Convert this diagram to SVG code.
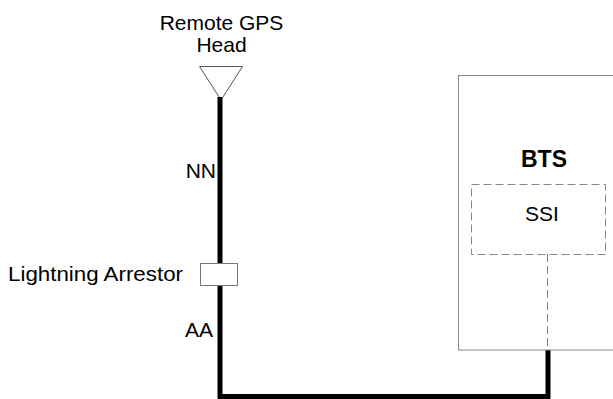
<svg xmlns="http://www.w3.org/2000/svg" width="613" height="399" viewBox="0 0 613 399">
<style>
text{font-family:"Liberation Sans",Arial,sans-serif;fill:#000}
.t{font-size:21px}
.thin{fill:none;stroke:#888;stroke-width:1}
.dash{fill:none;stroke:#888;stroke-width:1;stroke-dasharray:8,4}
.thick{fill:none;stroke:#000;stroke-width:5;stroke-linejoin:miter}
</style>
<rect width="613" height="399" fill="#fff"/>
<g id="gps">
<polygon points="199.5,66.5 242.5,66.5 221,100" fill="#fff" stroke="#555" stroke-width="1"/>
<text class="t" x="221.5" y="30" text-anchor="middle">Remote GPS</text>
<text class="t" x="221.5" y="52" text-anchor="middle">Head</text>
</g>
<g id="connectors">
<polyline class="thick" points="220,97 220,396.5 548,396.5 548,350"/>
<line class="dash" x1="547.5" y1="254" x2="547.5" y2="349"/>
</g>
<g id="labels">
<text class="t" x="216" y="178" text-anchor="end">NN</text>
<text class="t" x="213" y="337" text-anchor="end">AA</text>
</g>
<g id="arrestor">
<rect x="200.5" y="263.5" width="37" height="22" fill="#fff" stroke="#777" stroke-width="1"/>
<text class="t" x="183" y="281" text-anchor="end" textLength="175" lengthAdjust="spacingAndGlyphs">Lightning Arrestor</text>
</g>
<g id="bts">
<rect class="thin" x="458.5" y="75.5" width="160" height="274.5" fill="#fff"/>
<text x="544" y="167" font-size="23" font-weight="bold" text-anchor="middle">BTS</text>
</g>
<g id="ssi">
<rect class="dash" x="471.5" y="184.5" width="134" height="70"/>
<text class="t" x="542" y="221" text-anchor="middle">SSI</text>
</g>
</svg>
